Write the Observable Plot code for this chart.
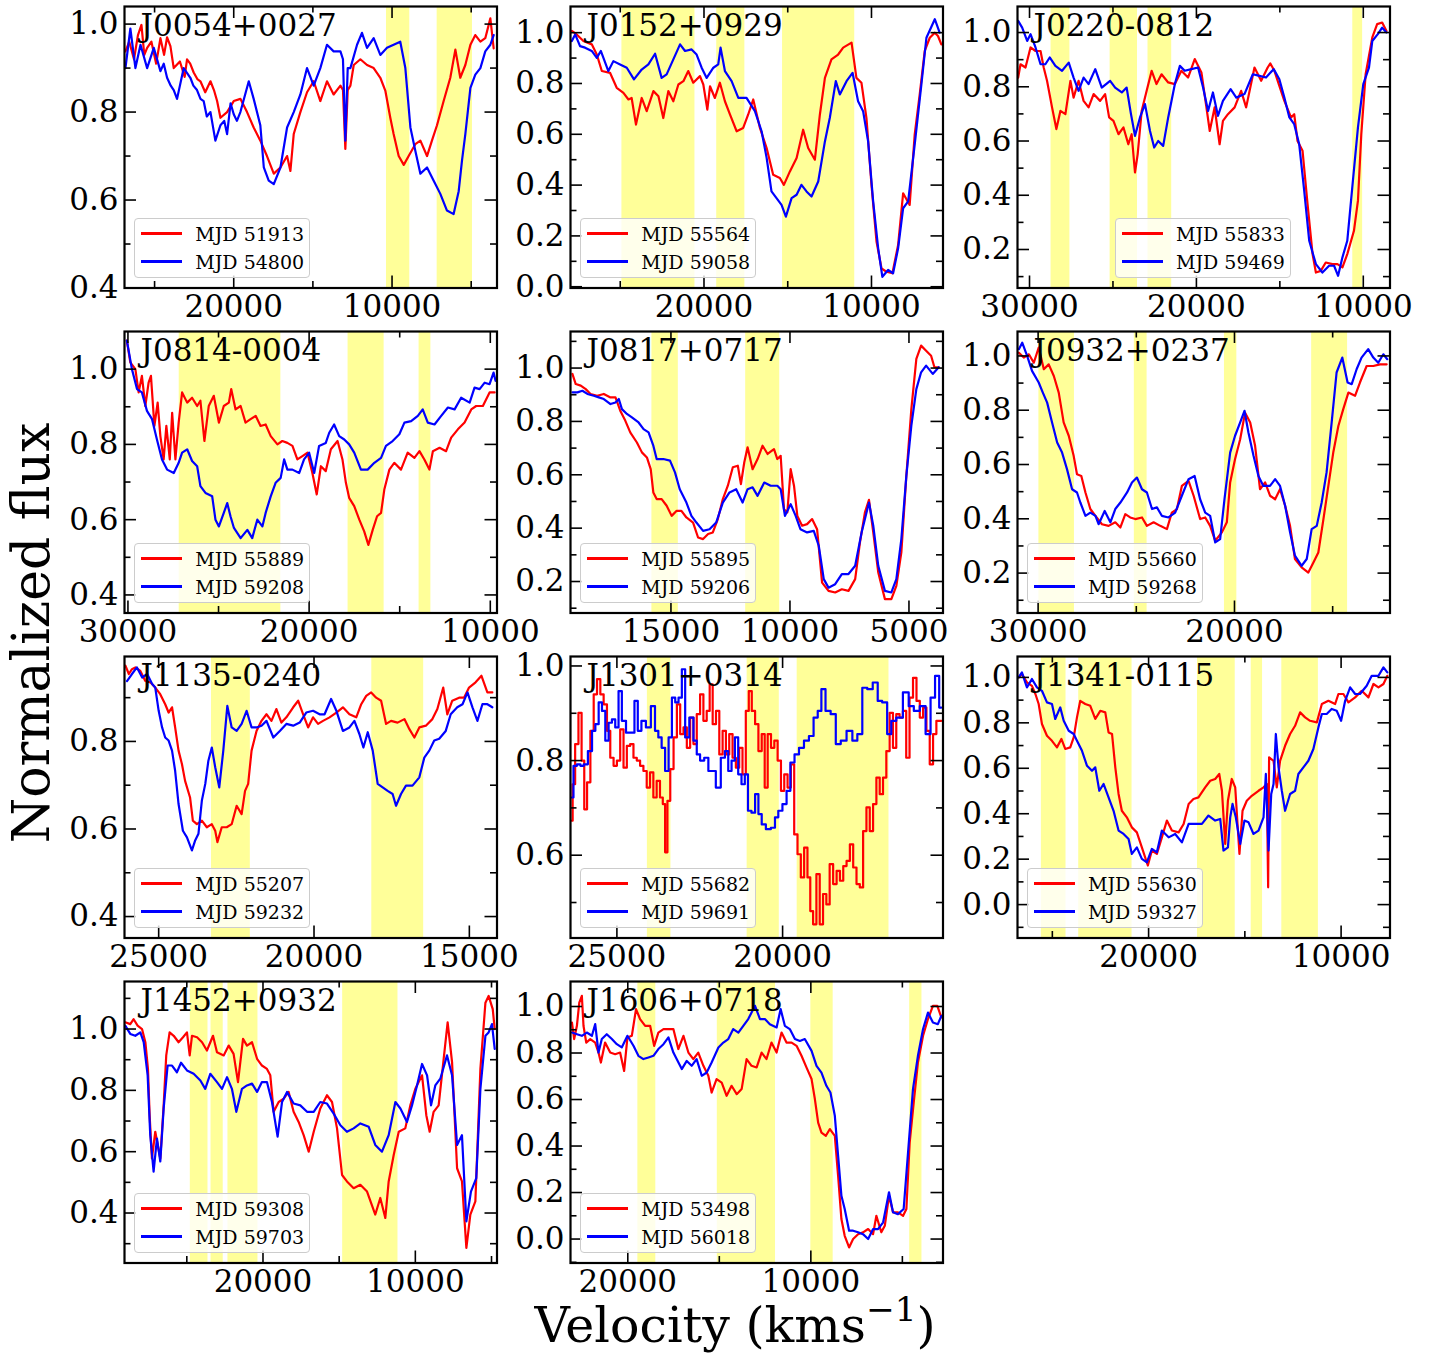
<!DOCTYPE html>
<html><head><meta charset="utf-8">
<script src="https://cdn.jsdelivr.net/npm/d3@7"></script>
<script src="https://cdn.jsdelivr.net/npm/@observablehq/plot@0.6"></script>
<style>
body{margin:0;background:#fff;}
#root{position:relative;width:1443px;height:1355px;background:#fff;font-family:"DejaVu Serif",serif;overflow:hidden;}
.pw{position:absolute;}
.legend{position:absolute;width:176px;height:60px;box-sizing:border-box;border:1px solid #cccccc;border-radius:4px;background:rgba(255,255,255,0.8);}
.legend .ln{position:absolute;left:5.5px;width:41px;height:2.2px;}
.legend .tx{position:absolute;left:60px;font-size:19px;line-height:22px;white-space:nowrap;color:#000;}
.axlab{position:absolute;white-space:nowrap;color:#000;}
</style></head><body><div id="root"></div><script>
// ---------------- data ----------------
const names = ["J0054+0027","J0152+0929","J0220-0812","J0814-0004","J0817+0717","J0932+0237","J1135-0240","J1301+0314","J1341-0115","J1452+0932","J1606+0718"];
const mjdRed  = ["MJD 51913","MJD 55564","MJD 55833","MJD 55889","MJD 55895","MJD 55660","MJD 55207","MJD 55682","MJD 55630","MJD 59308","MJD 53498"];
const mjdBlue = ["MJD 54800","MJD 59058","MJD 59469","MJD 59208","MJD 59206","MJD 59268","MJD 59232","MJD 59691","MJD 59327","MJD 59703","MJD 56018"];
const xDomains = [[26900,3370],[27970,5730],[30720,8400],[30190,9630],[19220,3570],[31050,12080],[26100,14110],[26400,15160],[26810,7460],[29090,4640],[23130,2780]];
const yDomains = [[0.4,1.04],[-0.005,1.103],[0.058,1.096],[0.352,1.10],[0.082,1.137],[0.053,1.09],[0.351,0.994],[0.425,1.02],[-0.147,1.092],[0.237,1.155],[-0.103,1.1075]];
const xMajor = [[20000,10000],[20000,10000],[30000,20000,10000],[30000,20000,10000],[15000,10000,5000],[30000,20000],[25000,20000,15000],[25000,20000],[20000,10000],[20000,10000],[20000,10000]];
const xMinor = [[25000,15000,5000],[25000,15000],[25000,15000],[25000,15000],[],[25000,15000],[],[],[25000,15000],[25000,15000,5000],[15000,5000]];
const yMajor = [[0.4,0.6,0.8,1.0],[0,0.2,0.4,0.6,0.8,1.0],[0.2,0.4,0.6,0.8,1.0],[0.4,0.6,0.8,1.0],[0.2,0.4,0.6,0.8,1.0],[0.2,0.4,0.6,0.8,1.0],[0.4,0.6,0.8],[0.6,0.8,1.0],[0,0.2,0.4,0.6,0.8,1.0],[0.4,0.6,0.8,1.0],[0,0.2,0.4,0.6,0.8,1.0]];
const yMinor = [[0.5,0.7,0.9],[0.1,0.3,0.5,0.7,0.9],[0.1,0.3,0.5,0.7,0.9],[0.5,0.7,0.9],[0.1,0.3,0.5,0.7,0.9,1.1],[0.1,0.3,0.5,0.7,0.9],[0.5,0.7,0.9],[0.5,0.7,0.9],[-0.1,0.1,0.3,0.5,0.7,0.9],[0.3,0.5,0.7,0.9,1.1],[-0.1,0.1,0.3,0.5,0.7,0.9]];

const bands = [
 [[10350,8880],[7150,4920]],
 [[24900,20540],[19240,17560],[15310,11000]],
 [[28710,27580],[25170,23530],[22900,21480],[10630,10040]],
 [[27170,21560],[17850,15860],[13930,13280]],
 [[15800,14690],[11860,10430]],
 [[29960,28150],[25100,24450],[20510,19880],[16070,14240]],
 [[23300,22050],[18140,16470]],
 [[24080,23370],[21070,20100],[19560,16790]],
 [[25570,24290],[23630,20860],[17460,15500],[14670,14080],[13080,11180]],
 [[24770,23610],[23410,22610],[22300,20330],[14770,11140]],
 [[19450,18470],[15110,11930],[10000,8780],[4600,3930]]
];

const red_J0054 = [[26840,0.938],[26600,0.96],[26300,0.92],[26050,0.975],[25830,0.998],[25650,0.93],[25470,0.946],[25200,0.96],[24900,0.91],[24630,0.968],[24400,0.93],[24210,0.97],[24000,0.95],[23790,0.90],[23400,0.915],[23100,0.88],[22950,0.92],[22750,0.91],[22530,0.89],[22300,0.875],[22105,0.87],[21800,0.845],[21470,0.87],[21250,0.85],[21050,0.825],[20840,0.787],[20420,0.80],[20000,0.825],[19580,0.83],[19160,0.80],[18740,0.765],[18320,0.735],[17900,0.70],[17470,0.66],[17050,0.674],[16630,0.70],[16420,0.666],[16210,0.75],[15790,0.80],[15370,0.845],[14950,0.87],[14530,0.825],[14110,0.87],[13690,0.84],[13260,0.86],[13100,0.85],[12950,0.716],[12800,0.85],[12630,0.86],[12420,0.907],[12000,0.92],[11580,0.907],[11160,0.90],[10740,0.878],[10420,0.848],[10110,0.787],[9900,0.75],[9580,0.70],[9260,0.68],[8950,0.70],[8530,0.727],[8210,0.735],[7790,0.70],[7480,0.735],[7160,0.77],[6740,0.825],[6320,0.878],[6000,0.942],[5690,0.878],[5370,0.907],[5050,0.953],[4740,0.975],[4420,0.96],[4110,0.968],[3790,1.013],[3580,0.945]];
const blue_J0054 = [[26840,0.90],[26530,0.99],[26210,0.90],[25890,0.953],[25470,0.90],[25050,0.946],[24630,0.893],[24420,0.91],[24210,0.878],[23980,0.86],[23790,0.85],[23580,0.83],[23160,0.90],[22740,0.878],[22550,0.86],[22320,0.85],[22100,0.83],[21900,0.825],[21700,0.79],[21470,0.80],[21160,0.735],[20840,0.77],[20600,0.78],[20420,0.75],[20200,0.82],[20000,0.795],[19800,0.78],[19580,0.80],[19050,0.87],[18740,0.83],[18320,0.77],[18100,0.674],[17790,0.644],[17470,0.636],[17050,0.674],[16630,0.765],[16210,0.80],[15790,0.84],[15370,0.90],[14950,0.86],[14530,0.90],[14110,0.953],[13690,0.938],[13260,0.938],[13100,0.92],[12950,0.735],[12800,0.90],[12630,0.90],[12210,0.953],[11900,0.98],[11580,0.946],[11160,0.968],[10740,0.93],[10320,0.946],[9900,0.953],[9480,0.96],[9160,0.90],[8840,0.765],[8530,0.712],[8210,0.66],[7790,0.674],[7370,0.644],[6950,0.614],[6530,0.576],[6110,0.568],[5790,0.62],[5580,0.69],[5370,0.75],[5050,0.855],[4740,0.885],[4420,0.90],[4110,0.938],[3790,0.953],[3580,0.975]];

const red_J0152 = [[27890,1.007],[27600,0.993],[27200,0.967],[26700,0.954],[26400,0.914],[26100,0.849],[25610,0.842],[25210,0.783],[24810,0.763],[24510,0.737],[24320,0.743],[24060,0.638],[23720,0.743],[23420,0.691],[23020,0.77],[22720,0.75],[22430,0.664],[22130,0.77],[21830,0.73],[21530,0.796],[21230,0.809],[20940,0.849],[20640,0.803],[20240,0.829],[20040,0.796],[19800,0.697],[19640,0.789],[19350,0.743],[19050,0.803],[18750,0.73],[18450,0.678],[18050,0.612],[17660,0.625],[17360,0.678],[17060,0.737],[16660,0.625],[16260,0.546],[15870,0.441],[15470,0.428],[15230,0.401],[14870,0.454],[14470,0.507],[14080,0.618],[13780,0.546],[13380,0.50],[13080,0.678],[12780,0.822],[12390,0.895],[11990,0.914],[11690,0.941],[11190,0.961],[10900,0.822],[10600,0.803],[10300,0.664],[10000,0.401],[9700,0.178],[9400,0.072],[9110,0.059],[8750,0.053],[8410,0.164],[8110,0.368],[7720,0.322],[7420,0.599],[7120,0.757],[6820,0.928],[6520,0.98],[6220,1.0],[6030,0.987],[5830,0.954]];
const blue_J0152 = [[27890,0.967],[27690,0.993],[27400,0.947],[27100,0.941],[26700,0.928],[26400,0.901],[26160,0.928],[25710,0.849],[25410,0.888],[25010,0.875],[24610,0.862],[24180,0.816],[23720,0.855],[23320,0.875],[22920,0.917],[22530,0.822],[22230,0.836],[21830,0.895],[21430,0.954],[21130,0.928],[20740,0.934],[20440,0.914],[20140,0.862],[19840,0.822],[19440,0.862],[19150,0.875],[19010,0.941],[18750,0.849],[18350,0.809],[17950,0.743],[17460,0.743],[16960,0.691],[16560,0.612],[16260,0.507],[15970,0.375],[15670,0.349],[15370,0.322],[15110,0.276],[14770,0.349],[14470,0.362],[14180,0.401],[13880,0.375],[13580,0.355],[13180,0.414],[12780,0.572],[12490,0.664],[12130,0.809],[11890,0.757],[11490,0.809],[11130,0.842],[10800,0.73],[10500,0.691],[10200,0.572],[9900,0.336],[9600,0.151],[9350,0.039],[9010,0.066],[8710,0.053],[8410,0.151],[8110,0.309],[7810,0.336],[7420,0.559],[7020,0.796],[6720,0.98],[6220,1.053],[5930,1.0]];

const red_J0220 = [[30680,0.834],[30540,0.883],[30240,0.871],[29940,0.945],[29640,0.932],[29340,0.932],[29150,0.871],[28950,0.822],[28650,0.724],[28390,0.644],[28150,0.711],[27850,0.699],[27550,0.822],[27360,0.76],[27060,0.822],[26760,0.748],[26460,0.724],[26160,0.773],[25770,0.748],[25470,0.773],[25230,0.687],[24970,0.674],[24670,0.625],[24370,0.65],[24080,0.588],[23880,0.625],[23680,0.484],[23520,0.551],[23280,0.711],[22980,0.785],[22680,0.859],[22390,0.81],[22090,0.846],[21690,0.816],[21290,0.81],[20900,0.859],[20500,0.834],[20100,0.902],[19700,0.853],[19400,0.724],[19200,0.637],[18910,0.724],[18610,0.588],[18410,0.674],[18110,0.699],[17710,0.724],[17320,0.785],[17020,0.724],[16520,0.871],[16120,0.822],[15730,0.871],[15570,0.886],[15330,0.859],[15030,0.803],[14730,0.748],[14330,0.687],[14140,0.699],[13940,0.60],[13640,0.564],[13340,0.367],[13040,0.183],[12840,0.115],[12550,0.121],[12250,0.152],[11850,0.146],[11550,0.146],[11250,0.134],[10960,0.183],[10560,0.269],[10320,0.38],[10120,0.625],[9860,0.846],[9460,0.982],[9170,1.031],[8870,1.037],[8610,1.006]];
const blue_J0220 = [[30680,1.043],[30440,1.018],[30140,0.969],[29940,0.994],[29640,0.945],[29340,0.883],[29050,0.883],[28790,0.908],[28450,0.877],[28050,0.859],[27650,0.889],[27360,0.834],[27060,0.785],[26760,0.834],[26460,0.81],[26060,0.865],[25670,0.797],[25170,0.822],[24870,0.797],[24470,0.779],[24180,0.797],[23920,0.699],[23680,0.619],[23380,0.687],[23080,0.736],[22780,0.637],[22530,0.576],[22290,0.60],[21990,0.582],[21690,0.687],[21290,0.81],[20990,0.877],[20700,0.859],[20300,0.865],[19900,0.871],[19600,0.797],[19300,0.711],[19010,0.779],[18710,0.693],[18410,0.748],[17950,0.791],[17610,0.76],[17120,0.773],[16620,0.846],[16220,0.840],[15830,0.834],[15370,0.865],[15030,0.828],[14730,0.76],[14430,0.687],[14140,0.662],[13840,0.588],[13540,0.416],[13240,0.232],[12840,0.146],[12450,0.115],[12050,0.14],[11750,0.14],[11510,0.103],[11250,0.171],[10960,0.232],[10660,0.429],[10320,0.65],[10000,0.81],[9660,0.871],[9460,0.969],[9130,0.994],[8870,1.018],[8610,1.0]];

const red_J0814 = [[30060,1.076],[29870,1.018],[29590,1.0],[29410,0.938],[29230,0.982],[29040,0.902],[28860,0.964],[28730,0.982],[28540,0.849],[28360,0.911],[28210,0.822],[28030,0.76],[27880,0.849],[27690,0.76],[27560,0.884],[27380,0.76],[27200,0.858],[27010,0.938],[26730,0.911],[26460,0.924],[26180,0.902],[26000,0.916],[25780,0.809],[25540,0.902],[25260,0.929],[24980,0.858],[24710,0.902],[24430,0.911],[24300,0.947],[24060,0.893],[23780,0.902],[23510,0.858],[23230,0.867],[22950,0.876],[22680,0.849],[22400,0.853],[22120,0.822],[21750,0.80],[21480,0.809],[21200,0.804],[20920,0.796],[20650,0.76],[20370,0.769],[20090,0.778],[19820,0.724],[19580,0.667],[19350,0.742],[19080,0.729],[18800,0.787],[18430,0.809],[18160,0.76],[17970,0.698],[17790,0.658],[17510,0.636],[17230,0.60],[16960,0.569],[16730,0.533],[16490,0.573],[16250,0.609],[16030,0.618],[15850,0.68],[15570,0.733],[15300,0.751],[14930,0.733],[14560,0.778],[14190,0.764],[13910,0.782],[13640,0.76],[13360,0.733],[13170,0.782],[12800,0.791],[12440,0.782],[12160,0.818],[11790,0.84],[11420,0.858],[11050,0.893],[10780,0.902],[10410,0.902],[10040,0.938],[9760,0.938]];
const blue_J0814 = [[30060,1.076],[29780,1.0],[29500,0.947],[29230,0.938],[28950,0.889],[28670,0.867],[28400,0.813],[28120,0.76],[27840,0.733],[27470,0.724],[27200,0.751],[27010,0.778],[26730,0.787],[26460,0.756],[26180,0.742],[26000,0.689],[25720,0.671],[25350,0.662],[25170,0.60],[24980,0.582],[24710,0.618],[24520,0.644],[24340,0.609],[24150,0.578],[23780,0.551],[23410,0.573],[23140,0.551],[22860,0.60],[22580,0.582],[22400,0.618],[22120,0.662],[21850,0.698],[21570,0.711],[21380,0.76],[21200,0.733],[20920,0.733],[20550,0.724],[20280,0.76],[20000,0.778],[19720,0.724],[19450,0.796],[19080,0.804],[18890,0.831],[18620,0.853],[18340,0.822],[18060,0.813],[17790,0.80],[17510,0.778],[17140,0.733],[16770,0.733],[16400,0.751],[16030,0.764],[15760,0.796],[15390,0.809],[15020,0.827],[14740,0.858],[14370,0.862],[14000,0.876],[13730,0.893],[13450,0.858],[13080,0.853],[12710,0.876],[12340,0.898],[11970,0.893],[11610,0.924],[11140,0.911],[10870,0.951],[10590,0.947],[10310,0.964],[10040,0.96],[9820,0.991],[9710,0.969]];

const red_J0817 = [[19140,0.978],[19000,0.94],[18790,0.934],[18580,0.921],[18380,0.903],[18100,0.896],[17820,0.903],[17540,0.89],[17330,0.89],[17130,0.84],[16920,0.803],[16710,0.759],[16430,0.721],[16220,0.684],[16010,0.665],[15850,0.621],[15740,0.534],[15600,0.509],[15390,0.509],[15180,0.484],[14970,0.446],[14760,0.465],[14560,0.465],[14350,0.44],[14070,0.421],[13860,0.365],[13650,0.359],[13440,0.378],[13240,0.384],[13030,0.434],[12820,0.509],[12610,0.559],[12400,0.628],[12190,0.634],[12060,0.565],[11920,0.646],[11780,0.703],[11570,0.621],[11360,0.659],[11150,0.709],[10940,0.678],[10670,0.696],[10530,0.659],[10390,0.671],[10250,0.471],[10110,0.459],[9970,0.621],[9830,0.559],[9690,0.446],[9490,0.409],[9280,0.415],[9070,0.434],[8860,0.396],[8650,0.196],[8380,0.165],[8100,0.159],[7820,0.171],[7540,0.165],[7260,0.209],[7060,0.346],[6850,0.459],[6680,0.506],[6500,0.384],[6290,0.234],[6010,0.134],[5740,0.134],[5530,0.184],[5320,0.309],[5110,0.596],[4900,0.846],[4690,1.034],[4490,1.084],[4280,1.065],[4070,1.046],[3930,1.003],[3750,1.003]];
const blue_J0817 = [[19140,0.909],[18930,0.909],[18720,0.915],[18510,0.903],[18240,0.896],[18030,0.89],[17820,0.884],[17540,0.865],[17330,0.871],[17190,0.884],[17060,0.846],[16850,0.828],[16640,0.815],[16360,0.796],[16150,0.771],[15940,0.759],[15740,0.709],[15600,0.659],[15320,0.659],[15040,0.653],[14830,0.609],[14630,0.546],[14350,0.496],[14140,0.446],[13930,0.421],[13650,0.39],[13380,0.396],[13100,0.421],[12820,0.496],[12540,0.534],[12260,0.546],[11990,0.496],[11780,0.546],[11570,0.553],[11360,0.521],[11080,0.571],[10810,0.559],[10530,0.559],[10390,0.546],[10210,0.446],[9970,0.49],[9760,0.446],[9560,0.396],[9280,0.384],[9000,0.39],[8790,0.334],[8580,0.209],[8380,0.177],[8100,0.19],[7820,0.228],[7540,0.228],[7260,0.259],[6990,0.384],[6680,0.496],[6500,0.409],[6290,0.259],[6010,0.165],[5740,0.159],[5530,0.209],[5320,0.359],[5110,0.596],[4900,0.784],[4690,0.921],[4490,0.984],[4280,1.009],[4000,0.978],[3750,1.003]];

const red_J0932 = [[30980,1.012],[30730,0.994],[30470,1.006],[30220,0.975],[29970,1.031],[29710,0.951],[29460,0.969],[29200,0.926],[28950,0.865],[28700,0.755],[28440,0.706],[28190,0.632],[28020,0.564],[27800,0.558],[27590,0.497],[27340,0.436],[27080,0.411],[26750,0.38],[26410,0.374],[26070,0.387],[25810,0.368],[25560,0.417],[25310,0.405],[25050,0.399],[24710,0.405],[24460,0.374],[24120,0.387],[23780,0.374],[23440,0.362],[23190,0.423],[22930,0.436],[22680,0.521],[22340,0.54],[22080,0.485],[21750,0.399],[21490,0.405],[21240,0.374],[20980,0.319],[20640,0.35],[20390,0.387],[20220,0.534],[19970,0.62],[19710,0.693],[19460,0.791],[19200,0.755],[18950,0.669],[18700,0.509],[18440,0.534],[18190,0.485],[17930,0.472],[17680,0.509],[17420,0.448],[17170,0.374],[16920,0.252],[16580,0.221],[16240,0.202],[15980,0.239],[15730,0.276],[15470,0.399],[15220,0.521],[14970,0.644],[14710,0.742],[14460,0.804],[14200,0.865],[13860,0.853],[13610,0.902],[13270,0.963],[12930,0.963],[12590,0.969],[12250,0.969]];
const blue_J0932 = [[30980,1.025],[30810,1.049],[30560,1.0],[30310,0.945],[29970,0.902],[29760,0.865],[29540,0.828],[29290,0.755],[29030,0.681],[28780,0.644],[28530,0.583],[28270,0.509],[28020,0.497],[27850,0.46],[27590,0.411],[27340,0.423],[27080,0.411],[26920,0.38],[26610,0.429],[26320,0.387],[26070,0.436],[25810,0.46],[25470,0.497],[25220,0.534],[24970,0.552],[24710,0.509],[24460,0.497],[24200,0.436],[23950,0.442],[23700,0.411],[23360,0.405],[23020,0.423],[22680,0.485],[22340,0.546],[22030,0.558],[21750,0.472],[21490,0.423],[21240,0.411],[20980,0.313],[20730,0.325],[20510,0.472],[20220,0.644],[19970,0.706],[19710,0.755],[19490,0.798],[19290,0.718],[19030,0.632],[18780,0.558],[18530,0.521],[18190,0.521],[17930,0.546],[17680,0.521],[17420,0.448],[17170,0.35],[16920,0.264],[16580,0.227],[16320,0.252],[16070,0.362],[15810,0.374],[15560,0.46],[15310,0.571],[15050,0.755],[14800,0.939],[14510,0.994],[14240,0.902],[14030,0.896],[13780,0.951],[13530,0.994],[13190,1.025],[12930,0.994],[12680,0.975],[12420,1.006],[12220,0.988]];

const red_J1135 = [[26070,0.973],[25960,0.954],[25860,0.965],[25750,0.969],[25590,0.961],[25430,0.938],[25270,0.935],[25110,0.923],[24950,0.908],[24790,0.885],[24680,0.866],[24570,0.878],[24470,0.832],[24360,0.779],[24250,0.748],[24150,0.71],[23990,0.672],[23900,0.619],[23770,0.611],[23610,0.619],[23450,0.604],[23290,0.611],[23180,0.596],[23110,0.57],[22970,0.604],[22810,0.604],[22650,0.611],[22490,0.653],[22330,0.634],[22220,0.687],[22120,0.703],[22010,0.779],[21850,0.824],[21690,0.847],[21530,0.862],[21370,0.847],[21210,0.874],[21050,0.843],[20890,0.855],[20670,0.878],[20510,0.893],[20350,0.862],[20190,0.832],[20030,0.855],[19870,0.84],[19710,0.847],[19500,0.855],[19280,0.866],[19070,0.878],[18860,0.862],[18640,0.855],[18480,0.885],[18320,0.904],[18160,0.912],[18000,0.90],[17840,0.893],[17680,0.84],[17520,0.847],[17310,0.843],[17090,0.851],[16930,0.828],[16770,0.809],[16610,0.832],[16400,0.836],[16190,0.851],[16030,0.874],[15840,0.923],[15710,0.862],[15550,0.893],[15330,0.90],[15170,0.90],[15010,0.923],[14800,0.935],[14610,0.95],[14420,0.912],[14260,0.912]];
const blue_J1135 = [[26020,0.938],[25860,0.954],[25700,0.969],[25530,0.946],[25370,0.954],[25210,0.931],[25110,0.923],[25000,0.87],[24890,0.832],[24790,0.809],[24680,0.802],[24570,0.779],[24470,0.733],[24360,0.657],[24220,0.596],[24090,0.581],[23930,0.551],[23830,0.573],[23720,0.589],[23610,0.665],[23500,0.703],[23400,0.756],[23290,0.786],[23180,0.741],[23050,0.695],[22920,0.779],[22790,0.881],[22650,0.832],[22490,0.824],[22330,0.84],[22170,0.87],[22010,0.832],[21850,0.832],[21690,0.836],[21530,0.847],[21310,0.809],[21100,0.824],[20890,0.84],[20670,0.836],[20460,0.843],[20250,0.866],[20030,0.87],[19820,0.862],[19660,0.862],[19450,0.897],[19280,0.87],[19070,0.824],[18860,0.832],[18700,0.847],[18540,0.817],[18410,0.786],[18270,0.821],[18110,0.779],[17950,0.703],[17790,0.695],[17630,0.687],[17470,0.68],[17360,0.653],[17200,0.68],[17040,0.699],[16830,0.699],[16610,0.718],[16450,0.763],[16290,0.779],[16130,0.802],[15970,0.806],[15760,0.824],[15600,0.862],[15390,0.878],[15220,0.885],[15060,0.912],[14900,0.878],[14740,0.847],[14580,0.885],[14420,0.885],[14260,0.878]];

const red_J1301 = [[26360,0.673],[26310,0.75],[26210,0.835],[26110,0.901],[26020,0.80],[25950,0.697],[25850,0.754],[25750,0.863],[25650,0.94],[25550,0.972],[25450,0.94],[25350,0.919],[25250,0.863],[25150,0.806],[25050,0.789],[24950,0.80],[24850,0.866],[24750,0.785],[24650,0.831],[24550,0.835],[24450,0.806],[24350,0.80],[24250,0.789],[24150,0.778],[24050,0.743],[23950,0.775],[23850,0.722],[23750,0.757],[23650,0.722],[23580,0.708],[23510,0.606],[23440,0.715],[23340,0.782],[23240,0.849],[23140,0.919],[23040,0.856],[22940,0.87],[22840,0.827],[22740,0.891],[22640,0.835],[22540,0.898],[22440,0.94],[22340,0.884],[22240,0.905],[22160,0.961],[22060,0.877],[21960,0.905],[21860,0.813],[21760,0.863],[21660,0.813],[21560,0.856],[21460,0.806],[21360,0.785],[21260,0.827],[21160,0.771],[21060,0.905],[20980,0.947],[20880,0.905],[20780,0.877],[20680,0.82],[20580,0.856],[20500,0.743],[20400,0.856],[20300,0.827],[20200,0.842],[20100,0.80],[20000,0.736],[19900,0.771],[19800,0.743],[19700,0.792],[19600,0.644],[19500,0.602],[19400,0.553],[19300,0.616],[19200,0.553],[19130,0.482],[19030,0.454],[18930,0.56],[18830,0.454],[18730,0.518],[18630,0.496],[18530,0.581],[18420,0.539],[18320,0.567],[18220,0.546],[18120,0.577],[18020,0.588],[17920,0.623],[17820,0.574],[17720,0.539],[17620,0.532],[17520,0.651],[17420,0.701],[17320,0.651],[17220,0.708],[17120,0.764],[17020,0.729],[16920,0.764],[16820,0.82],[16720,0.901],[16620,0.827],[16520,0.898],[16420,0.891],[16320,0.905],[16220,0.806],[16120,0.933],[16010,0.975],[15910,0.926],[15810,0.891],[15710,0.912],[15610,0.863],[15510,0.792],[15410,0.856],[15310,0.884],[15210,0.884]];
const blue_J1301 = [[26360,0.722],[26260,0.789],[26150,0.792],[26050,0.789],[25950,0.792],[25800,0.82],[25700,0.863],[25600,0.877],[25500,0.923],[25400,0.905],[25300,0.842],[25200,0.88],[25100,0.887],[25000,0.87],[24900,0.947],[24800,0.884],[24650,0.859],[24520,0.859],[24420,0.926],[24320,0.863],[24200,0.884],[24050,0.87],[23900,0.915],[23800,0.863],[23700,0.849],[23600,0.827],[23490,0.778],[23390,0.849],[23290,0.933],[23190,0.923],[23090,0.933],[22990,0.993],[22890,0.849],[22740,0.891],[22640,0.842],[22540,0.813],[22440,0.80],[22290,0.806],[22190,0.778],[22090,0.778],[21940,0.743],[21790,0.806],[21690,0.82],[21590,0.778],[21490,0.80],[21390,0.849],[21290,0.771],[21190,0.75],[21090,0.771],[21000,0.694],[20880,0.69],[20780,0.729],[20680,0.687],[20580,0.665],[20430,0.655],[20280,0.658],[20180,0.68],[20080,0.694],[19930,0.708],[19830,0.736],[19700,0.796],[19580,0.813],[19430,0.827],[19280,0.842],[19130,0.852],[19000,0.891],[18880,0.905],[18780,0.951],[18630,0.905],[18470,0.898],[18320,0.835],[18170,0.842],[17970,0.863],[17820,0.842],[17670,0.856],[17520,0.954],[17370,0.951],[17190,0.965],[17070,0.926],[16920,0.923],[16770,0.856],[16670,0.884],[16470,0.891],[16270,0.944],[16120,0.915],[15960,0.905],[15760,0.915],[15610,0.856],[15460,0.933],[15340,0.979],[15210,0.912]];

const red_J1341 = [[26750,1.0],[26580,1.015],[26320,0.978],[26060,0.963],[25880,0.927],[25710,0.883],[25540,0.795],[25280,0.743],[25020,0.721],[24760,0.692],[24530,0.729],[24330,0.685],[24070,0.692],[23890,0.736],[23720,0.824],[23550,0.897],[23290,0.883],[23030,0.875],[22770,0.817],[22510,0.853],[22250,0.846],[22080,0.758],[21900,0.751],[21730,0.604],[21560,0.487],[21390,0.413],[21130,0.384],[20870,0.34],[20610,0.318],[20350,0.252],[20040,0.172],[19830,0.238],[19570,0.223],[19310,0.296],[19050,0.37],[18790,0.326],[18440,0.318],[18180,0.355],[17920,0.443],[17670,0.465],[17410,0.472],[17060,0.516],[16800,0.545],[16540,0.553],[16330,0.575],[16190,0.501],[16020,0.267],[15880,0.457],[15680,0.553],[15500,0.516],[15360,0.326],[15280,0.223],[15120,0.413],[14900,0.457],[14640,0.479],[14290,0.501],[14030,0.516],[13860,0.531],[13790,0.076],[13740,0.648],[13510,0.633],[13340,0.516],[13170,0.633],[12910,0.699],[12650,0.751],[12390,0.787],[12130,0.846],[11870,0.824],[11610,0.809],[11260,0.802],[11000,0.883],[10660,0.897],[10310,0.883],[10140,0.927],[9880,0.927],[9620,0.89],[9270,0.912],[8930,0.941],[8580,0.912],[8320,0.971],[8060,0.956],[7800,0.971],[7600,1.007]];
const blue_J1341 = [[26750,1.0],[26580,1.022],[26320,0.956],[26060,0.993],[25800,0.956],[25540,0.941],[25280,0.89],[25020,0.883],[24850,0.817],[24590,0.868],[24410,0.809],[24150,0.765],[23890,0.751],[23720,0.721],[23460,0.677],[23200,0.611],[22940,0.589],[22770,0.604],[22560,0.501],[22340,0.531],[22080,0.472],[21820,0.413],[21560,0.326],[21300,0.311],[21040,0.289],[20870,0.223],[20610,0.252],[20350,0.201],[20090,0.186],[19830,0.245],[19570,0.23],[19310,0.326],[18960,0.296],[18620,0.311],[18270,0.274],[17920,0.355],[17580,0.355],[17230,0.355],[16890,0.392],[16540,0.37],[16280,0.377],[16110,0.238],[15880,0.252],[15760,0.384],[15640,0.443],[15470,0.384],[15240,0.267],[15020,0.37],[14810,0.362],[14550,0.311],[14290,0.326],[14030,0.384],[13910,0.575],[13770,0.238],[13630,0.487],[13510,0.531],[13390,0.751],[13250,0.604],[13080,0.501],[12910,0.413],[12650,0.487],[12390,0.501],[12220,0.575],[11960,0.604],[11700,0.633],[11440,0.685],[11180,0.78],[11000,0.839],[10750,0.839],[10490,0.861],[10230,0.853],[10000,0.809],[9790,0.897],[9530,0.956],[9270,0.927],[9020,0.927],[8670,0.963],[8410,1.007],[8060,1.007],[7800,1.044],[7600,1.022]];

const red_J1452 = [[29040,1.022],[28710,1.016],[28490,1.032],[28230,1.011],[27940,1.0],[27720,0.957],[27550,0.87],[27440,0.719],[27290,0.578],[27070,0.665],[26910,0.622],[26740,0.578],[26520,0.751],[26350,0.914],[26130,0.989],[25860,0.978],[25540,0.957],[25250,0.973],[24990,0.989],[24810,0.914],[24660,0.978],[24330,0.973],[24000,0.957],[23680,0.93],[23280,0.978],[23020,0.924],[22580,0.914],[22250,0.946],[21930,0.919],[21640,0.827],[21310,0.968],[21050,0.946],[20720,0.957],[20390,0.903],[20070,0.881],[19740,0.87],[19520,0.849],[19300,0.73],[18970,0.762],[18640,0.773],[18320,0.795],[17990,0.73],[17660,0.697],[17330,0.654],[17000,0.60],[16670,0.665],[16240,0.741],[15800,0.784],[15470,0.762],[15140,0.676],[14810,0.524],[14490,0.503],[14050,0.481],[13610,0.492],[13170,0.47],[12630,0.395],[12300,0.449],[11970,0.384],[11750,0.503],[11420,0.589],[11090,0.665],[10660,0.676],[10330,0.751],[10000,0.805],[9560,0.849],[9280,0.719],[9060,0.665],[8800,0.73],[8470,0.751],[8140,0.903],[7880,1.022],[7590,0.892],[7260,0.546],[6940,0.503],[6650,0.286],[6390,0.395],[6060,0.438],[5730,0.87],[5400,1.086],[5190,1.108],[4920,1.065],[4790,1.0]];
const blue_J1452 = [[29040,1.011],[28710,0.984],[28380,0.978],[28050,0.989],[27830,0.957],[27570,0.849],[27400,0.654],[27180,0.535],[26960,0.643],[26740,0.568],[26520,0.741],[26260,0.881],[25970,0.881],[25650,0.859],[25380,0.89],[24990,0.865],[24550,0.854],[24110,0.832],[23790,0.805],[23460,0.854],[23020,0.827],[22690,0.805],[22360,0.843],[22040,0.805],[21750,0.73],[21380,0.805],[21050,0.816],[20720,0.822],[20390,0.795],[20070,0.827],[19740,0.827],[19410,0.762],[19040,0.649],[18750,0.762],[18420,0.795],[17990,0.757],[17550,0.751],[17110,0.73],[16670,0.73],[16240,0.762],[15800,0.757],[15360,0.724],[14920,0.686],[14490,0.665],[14050,0.676],[13610,0.692],[13060,0.681],[12630,0.622],[12190,0.60],[11750,0.654],[11310,0.762],[10980,0.741],[10550,0.697],[10220,0.751],[9890,0.816],[9560,0.886],[9230,0.849],[8970,0.751],[8690,0.816],[8360,0.838],[7920,0.914],[7590,0.849],[7260,0.622],[6940,0.654],[6650,0.373],[6350,0.47],[6000,0.514],[5730,0.805],[5400,0.978],[5190,0.989],[4970,1.016],[4790,0.935]];

const red_J1606 = [[23050,0.931],[22930,0.86],[22780,0.917],[22650,1.017],[22510,1.046],[22420,0.917],[22270,0.845],[22050,0.86],[21780,0.845],[21600,0.802],[21470,0.759],[21240,0.845],[20960,0.802],[20690,0.795],[20420,0.802],[20200,0.723],[20020,0.867],[19780,0.874],[19550,0.989],[19330,0.946],[19050,0.917],[18780,0.917],[18560,0.831],[18330,0.888],[18050,0.903],[17780,0.903],[17510,0.903],[17240,0.817],[16960,0.874],[16690,0.802],[16420,0.774],[16150,0.802],[15870,0.745],[15600,0.702],[15420,0.63],[15150,0.688],[14870,0.673],[14600,0.616],[14330,0.659],[14050,0.623],[13780,0.645],[13510,0.774],[13240,0.745],[12960,0.738],[12690,0.802],[12420,0.774],[12150,0.845],[11870,0.802],[11600,0.888],[11330,0.845],[11050,0.845],[10780,0.831],[10510,0.788],[10240,0.738],[9960,0.688],[9780,0.602],[9600,0.501],[9420,0.458],[9180,0.444],[8960,0.473],[8690,0.444],[8510,0.272],[8330,0.086],[8150,0.014],[7910,-0.036],[7690,0.0],[7420,0.021],[7150,0.029],[6870,0.043],[6600,0.021],[6420,0.10],[6150,0.029],[5960,0.057],[5730,0.186],[5510,0.115],[5240,0.115],[4960,0.10],[4780,0.129],[4600,0.415],[4380,0.587],[4150,0.759],[3870,0.874],[3600,0.946],[3330,1.003],[3090,1.003],[2870,0.953]];
const blue_J1606 = [[23050,0.888],[22780,0.881],[22510,0.874],[22240,0.888],[21960,0.874],[21780,0.924],[21600,0.802],[21420,0.86],[21150,0.881],[20870,0.86],[20600,0.838],[20330,0.824],[20020,0.874],[19690,0.831],[19420,0.788],[19150,0.774],[18870,0.781],[18600,0.788],[18330,0.817],[18050,0.838],[17780,0.867],[17510,0.802],[17330,0.774],[17050,0.731],[16780,0.766],[16510,0.745],[16240,0.774],[15960,0.702],[15690,0.716],[15420,0.759],[15050,0.824],[14780,0.845],[14510,0.86],[14240,0.903],[13960,0.888],[13690,0.917],[13420,0.946],[13050,1.003],[12780,0.946],[12510,0.946],[12240,0.924],[11870,0.91],[11650,0.989],[11420,0.917],[11150,0.903],[10870,0.86],[10600,0.852],[10330,0.86],[9960,0.809],[9690,0.745],[9420,0.716],[9150,0.659],[8930,0.63],[8690,0.53],[8510,0.358],[8330,0.186],[8150,0.129],[7910,0.036],[7690,0.036],[7420,0.029],[7150,0.021],[6870,0.0],[6600,0.043],[6330,0.043],[6050,0.072],[5730,0.201],[5510,0.115],[5240,0.107],[4930,0.129],[4690,0.372],[4420,0.645],[4150,0.788],[3870,0.903],[3600,0.974],[3330,0.931],[3060,0.924],[2870,0.96]];

const redSeries  = [red_J0054, red_J0152, red_J0220, red_J0814, red_J0817, red_J0932, red_J1135, red_J1301, red_J1341, red_J1452, red_J1606];
const blueSeries = [blue_J0054, blue_J0152, blue_J0220, blue_J0814, blue_J0817, blue_J0932, blue_J1135, blue_J1301, blue_J1341, blue_J1452, blue_J1606];

// ---------------- layout ----------------
const W = 372.5, H = 281.5;
const colX = [124.3, 570.3, 1017];
const rowY = [5.7, 330.7, 655.7, 980.7];
const ML = 95, MR = 75, MT = 12, MB = 55;
const MAJ = 12, MIN = 6.5;
const FS = 31;
const root = document.getElementById("root");

names.forEach((name, i) => {
  const col = i % 3, row = Math.floor(i / 3);
  const curve = name === "J1301+0314" ? "step" : "linear";
  const tickStyle = {stroke: "black", strokeWidth: 1.6};
  const svg = Plot.plot({
    width: W + ML + MR, height: H + MT + MB,
    marginLeft: ML, marginRight: MR, marginTop: MT, marginBottom: MB,
    x: {domain: xDomains[i], label: null},
    y: {domain: yDomains[i], label: null},
    style: {background: "transparent", overflow: "visible", fontFamily: "DejaVu Serif", fontSize: FS + "px", color: "black"},
    marks: [
      Plot.rect(bands[i], {x1: d => d[0], x2: d => d[1], fill: "#ffff99"}),
      Plot.line(redSeries[i], {x: d => d[0], y: d => d[1], stroke: "#ff0000", strokeWidth: 2.2, curve, clip: true}),
      Plot.line(blueSeries[i], {x: d => d[0], y: d => d[1], stroke: "#0000ff", strokeWidth: 2.2, curve, clip: true}),
      Plot.tickX(xMajor[i], {x: d => d, insetTop: H - MAJ, ...tickStyle}),
      Plot.tickX(xMajor[i], {x: d => d, insetBottom: H - MAJ, ...tickStyle}),
      Plot.tickX(xMinor[i], {x: d => d, insetTop: H - MIN, ...tickStyle}),
      Plot.tickX(xMinor[i], {x: d => d, insetBottom: H - MIN, ...tickStyle}),
      Plot.tickY(yMajor[i], {y: d => d, insetRight: W - MAJ, ...tickStyle}),
      Plot.tickY(yMajor[i], {y: d => d, insetLeft: W - MAJ, ...tickStyle}),
      Plot.tickY(yMinor[i], {y: d => d, insetRight: W - MIN, ...tickStyle}),
      Plot.tickY(yMinor[i], {y: d => d, insetLeft: W - MIN, ...tickStyle}),
      Plot.axisX({ticks: xMajor[i], tickSize: 0, tickPadding: 7, tickFormat: d => String(d), fontSize: FS, label: null}),
      Plot.axisY({ticks: yMajor[i], tickSize: 0, tickPadding: 6, tickFormat: d => d.toFixed(1), fontSize: FS, label: null}),
      Plot.text([name], {text: d => d, frameAnchor: "top-left", textAnchor: "start", lineAnchor: "top", dx: 16, dy: 7, fontSize: FS, fill: "black"}),
      Plot.frame({stroke: "black", strokeWidth: 2.2})
    ]
  });
  const wrap = document.createElement("div");
  wrap.className = "pw";
  wrap.style.left = (colX[col] - ML) + "px";
  wrap.style.top = (rowY[row] - MT) + "px";
  wrap.style.width = (W + ML + MR) + "px";
  wrap.appendChild(svg);
  root.appendChild(wrap);

  const lg = document.createElement("div");
  lg.className = "legend";
  lg.style.left = (colX[col] + (i === 2 ? 98 : 10)) + "px";
  lg.style.top = (rowY[row] + H - 9 - 60) + "px";
  lg.innerHTML = `<div class="ln" style="top:13.3px;background:#ff0000"></div><div class="tx" style="top:3.4px">${mjdRed[i]}</div>` +
                 `<div class="ln" style="top:41.3px;background:#0000ff"></div><div class="tx" style="top:31.4px">${mjdBlue[i]}</div>`;
  root.appendChild(lg);
});

const yl = document.createElement("div");
yl.className = "axlab";
yl.style.fontSize = "52px"; yl.style.lineHeight = "52px";
yl.textContent = "Normalized flux";
yl.style.left = "31px"; yl.style.top = "633px";
yl.style.transform = "translate(-50%,-50%) rotate(-90deg)";
root.appendChild(yl);

const xl = document.createElement("div");
xl.className = "axlab";
xl.style.fontSize = "49px"; xl.style.lineHeight = "46px";
xl.innerHTML = 'Velocity (kms<sup style="font-size:0.7em;line-height:0;position:relative;top:-0.1em">\u22121</sup>)';
xl.style.left = "735px"; xl.style.top = "1303px";
xl.style.transform = "translateX(-50%)";
root.appendChild(xl);
</script></body></html>
